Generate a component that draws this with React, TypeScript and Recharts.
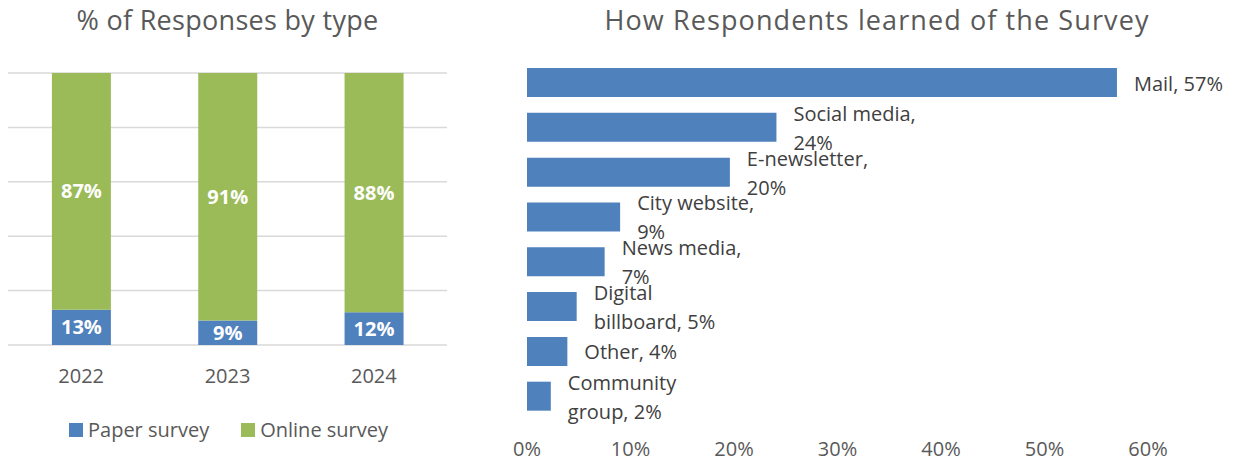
import { BarChart, Bar, XAxis, YAxis, CartesianGrid, LabelList } from "recharts";

const years = ["2022", "2023", "2024"];
const paperSurvey = [13, 9, 12];
const onlineSurvey = [87, 91, 88];
const stackTicks = [0, 20, 40, 60, 80, 100];

const sources = ["Mail", "Social media", "E-newsletter", "City website", "News media", "Digital billboard", "Other", "Community group"];
const sourceShare = [57, 24.1, 19.6, 9, 7.5, 4.8, 3.9, 2.3];
const sourceLabels = [
  ["Mail, 57%"],
  ["Social media,", "24%"],
  ["E-newsletter,", "20%"],
  ["City website,", "9%"],
  ["News media,", "7%"],
  ["Digital", "billboard, 5%"],
  ["Other, 4%"],
  ["Community", "group, 2%"],
];
const shareTicks = [0, 10, 20, 30, 40, 50, 60];

const BLUE = "#4F81BD";
const GREEN = "#9BBB59";
const GREY = "#595959";
const FONT = "'Open Sans', sans-serif";

const typeData = years.map((y, i) => ({ year: y, paper: paperSurvey[i], online: onlineSurvey[i] }));
const sourceData = sources.map((s, i) => ({ name: s, share: sourceShare[i] }));

// multi-line label to the right of each bar, like the wrapped excel labels
function SourceLabel(props: any) {
  const { x, y, width, height, index } = props;
  const lines = sourceLabels[index] || [];
  const cy = y + height / 2;
  const tx = x + width + 17;
  const step = 29;
  const start = cy - ((lines.length - 1) * step) / 2;
  return (
    <text x={tx} y={start} fill="#404040" fontSize={20} fontFamily={FONT} dominantBaseline="central">
      {lines.map((l: string, k: number) => (
        <tspan key={k} x={tx} y={start + k * step} dominantBaseline="central">{l}</tspan>
      ))}
    </text>
  );
}

function LegendItem({ color, text }: { color: string; text: string }) {
  return (
    <div style={{ display: "flex", alignItems: "center" }}>
      <div style={{ width: 14, height: 14, background: color, marginRight: 5 }} />
      <span>{text}</span>
    </div>
  );
}

export default function App() {
  const titleStyle: any = {
    position: "absolute",
    top: 2,
    fontFamily: FONT,
    fontSize: 27,
    lineHeight: "36px",
    color: GREY,
    textAlign: "center",
    whiteSpace: "nowrap",
  };
  return (
    <div style={{ position: "absolute", left: 0, top: 0, width: 1235, height: 460, background: "#fff", fontFamily: FONT }}>
      <div style={{ ...titleStyle, left: 0, width: 455, letterSpacing: 0.3 }}>% of Responses by type</div>
      <div style={{ ...titleStyle, left: 577, width: 600, letterSpacing: 1.1 }}>How Respondents learned of the Survey</div>

      <div style={{ position: "absolute", left: 0, top: 0 }}>
        <BarChart width={455} height={460} data={typeData} margin={{ top: 73, right: 8, bottom: 0, left: 8 }} barCategoryGap="30%">
          <CartesianGrid vertical={false} stroke="#D9D9D9" strokeWidth={1.5} />
          <YAxis hide domain={[0, 100]} ticks={stackTicks} type="number" />
          <XAxis
            dataKey="year"
            height={115}
            axisLine={false}
            tickLine={false}
            tickSize={0}
            tickMargin={24}
            tick={{ fill: GREY, fontSize: 20, fontFamily: FONT }}
          />
          <Bar dataKey="paper" stackId="a" fill={BLUE} isAnimationActive={false}>
            <LabelList dataKey="paper" position="center" formatter={(v: any) => `${v}%`} fill="#fff" fontSize={20} fontWeight="bold" fontFamily={FONT} />
          </Bar>
          <Bar dataKey="online" stackId="a" fill={GREEN} isAnimationActive={false}>
            <LabelList dataKey="online" position="center" formatter={(v: any) => `${v}%`} fill="#fff" fontSize={20} fontWeight="bold" fontFamily={FONT} />
          </Bar>
        </BarChart>
      </div>

      <div style={{ position: "absolute", left: 69, top: 416, display: "flex", gap: 32, fontSize: 20, color: GREY, lineHeight: "28px" }}>
        <LegendItem color={BLUE} text="Paper survey" />
        <LegendItem color={GREEN} text="Online survey" />
      </div>

      <div style={{ position: "absolute", left: 470, top: 0 }}>
        <BarChart width={765} height={460} data={sourceData} layout="vertical" margin={{ top: 60, right: 87, bottom: 0, left: 57 }}>
          <XAxis
            type="number"
            domain={[0, 60]}
            ticks={shareTicks}
            tickFormatter={(v: any) => `${v}%`}
            height={41.5}
            axisLine={false}
            tickLine={false}
            tickSize={0}
            tickMargin={23}
            tick={{ fill: GREY, fontSize: 20, fontFamily: FONT }}
          />
          <YAxis type="category" dataKey="name" hide />
          <Bar dataKey="share" fill={BLUE} barSize={29} isAnimationActive={false}>
            <LabelList dataKey="share" content={<SourceLabel />} />
          </Bar>
        </BarChart>
      </div>
    </div>
  );
}
